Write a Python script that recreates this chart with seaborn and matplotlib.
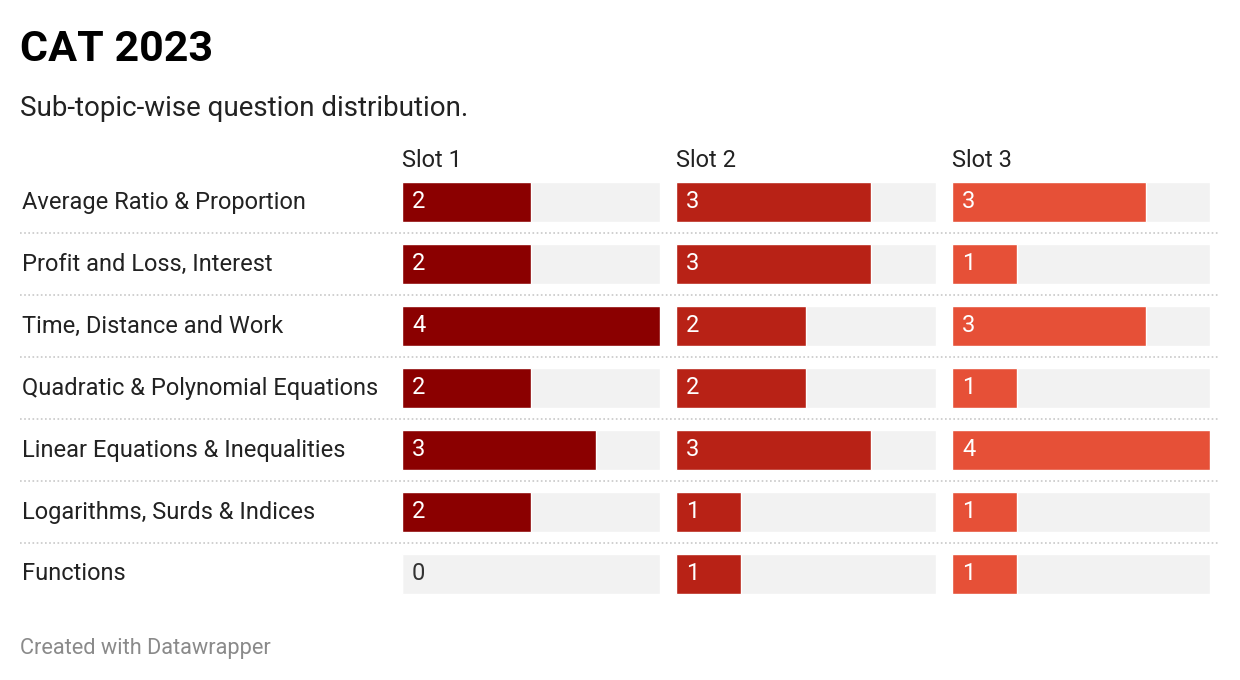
"""
CAT 2023 sub-topic-wise question distribution, Datawrapper-style small-multiple bars.
"""

import matplotlib
matplotlib.use("Agg")
import matplotlib.pyplot as plt
import seaborn as sns

topics = [
    "Average Ratio & Proportion",
    "Profit and Loss, Interest",
    "Time, Distance and Work",
    "Quadratic & Polynomial Equations",
    "Linear Equations & Inequalities",
    "Logarithms, Surds & Indices",
    "Functions",
]
slot_names = ["Slot 1", "Slot 2", "Slot 3"]
slot1 = [2, 2, 4, 2, 3, 2, 0]
slot2 = [3, 3, 2, 2, 3, 1, 1]
slot3 = [3, 1, 3, 1, 4, 1, 1]
slot_colors = ["#8b0000", "#b82216", "#e65037"]

W, H = 1240, 680
ROW_H = 62
TOP = 171  # px, top of first row


def fx(px):
    return px / W


def fy(py):
    return 1 - py / H


sns.set_theme(style="white")
plt.rcParams["font.family"] = ["Roboto", "DejaVu Sans"]

fig = plt.figure(figsize=(W / 100, H / 100), dpi=100)
n = len(topics)
rows_h = n * ROW_H

# background axis: row labels and dotted separators
bg = fig.add_axes([fx(20), fy(TOP + rows_h), fx(1218 - 20), rows_h / H])
bg.set_xlim(0, 1198)
bg.set_ylim(n - 0.5, -0.5)
bg.axis("off")
for i in range(n - 1):
    bg.axhline(i + 0.5, color="#c8c8c8", lw=1.2, ls=(0, (1, 1.5)))
for i, t in enumerate(topics):
    bg.text(2, i, t, va="center", ha="left", fontsize=17, color="#222222")

vmax = max(max(slot1), max(slot2), max(slot3))
lefts = [402, 676, 952]
widths = [258, 260, 258]
slots = [slot1, slot2, slot3]

for name, vals, color, left, wpx in zip(slot_names, slots, slot_colors, lefts, widths):
    ax = fig.add_axes([fx(left), fy(TOP + rows_h), wpx / W, rows_h / H])
    sns.barplot(x=[vmax] * n, y=topics, color="#f2f2f2", saturation=1,
                width=40 / ROW_H, orient="h", ax=ax)
    sns.barplot(x=vals, y=topics, color=color, saturation=1,
                width=40 / ROW_H, orient="h", ax=ax)
    ax.set_xlim(0, vmax)
    ax.set_ylim(n - 0.5, -0.5)
    ax.axis("off")
    for i, v in enumerate(vals):
        ax.text(vmax * 10 / wpx, i, str(v), va="center", ha="left", fontsize=17,
                color="white" if v > 0 else "#333333")
    fig.text(fx(left), fy(167), name, fontsize=17, color="#222222", va="baseline")

fig.text(fx(20), fy(61), "CAT 2023", fontsize=31, fontweight="bold", color="#000000", va="baseline")
fig.text(fx(20), fy(116), "Sub-topic-wise question distribution.", fontsize=20,
         color="#222222", va="baseline")
fig.text(fx(20), fy(654), "Created with Datawrapper", fontsize=15.7, color="#8a8a8a", va="baseline")

fig.savefig("out.png", dpi=100)
